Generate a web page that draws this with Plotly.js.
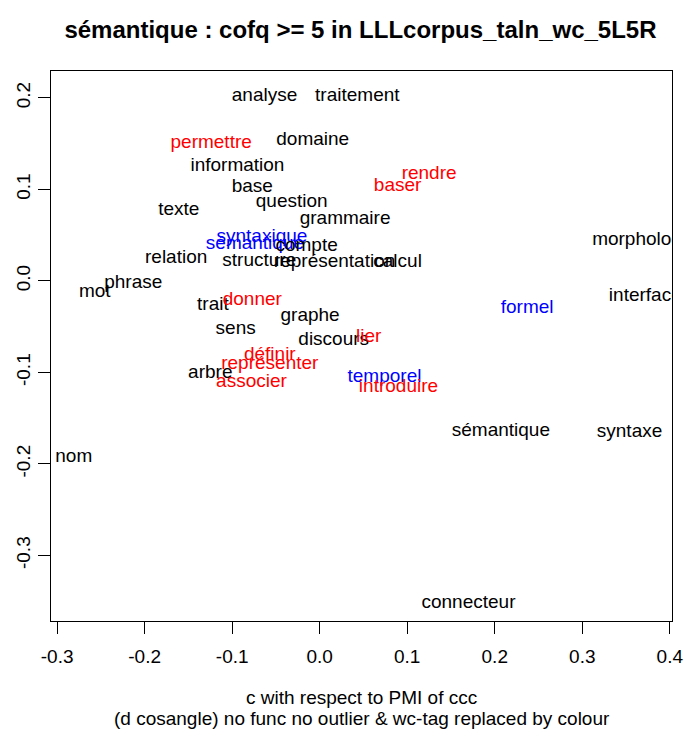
<!DOCTYPE html>
<html>
<head>
<meta charset="utf-8">
<script src="https://cdn.plot.ly/plotly-3.0.1.min.js"></script>
<style>html,body{margin:0;padding:0;background:#fff;}#chart{width:684px;height:736px;}</style>
</head>
<body>
<div id="chart"></div>
<script>
// words, coordinates and tag (colour class)
const words = ["analyse","traitement","permettre","domaine","information","rendre","base","baser","question","texte","grammaire","syntaxique","sémantique","compte","morphologie","relation","structure","représentation","calcul","phrase","mot","interface","trait","donner","formel","graphe","sens","discours","lier","définir","représenter","arbre","associer","temporel","introduire","sémantique","syntaxe","nom","connecteur"];
const xs = [-0.063,0.043,-0.124,-0.008,-0.094,0.125,-0.077,0.089,-0.032,-0.161,0.029,-0.066,-0.074,-0.015,0.371,-0.164,-0.069,0.017,0.089,-0.213,-0.257,0.372,-0.122,-0.077,0.237,-0.011,-0.096,0.016,0.056,-0.057,-0.057,-0.125,-0.078,0.074,0.090,0.207,0.354,-0.281,0.170];
const ys = [0.202,0.202,0.151,0.154,0.125,0.117,0.103,0.104,0.086,0.077,0.067,0.048,0.040,0.038,0.045,0.025,0.022,0.020,0.021,-0.003,-0.012,-0.017,-0.027,-0.021,-0.030,-0.038,-0.053,-0.065,-0.062,-0.081,-0.091,-0.101,-0.111,-0.105,-0.116,-0.164,-0.165,-0.193,-0.352];
const tags = ["N","N","V","N","N","V","N","V","N","N","N","A","A","N","N","N","N","N","N","N","N","N","N","V","A","N","N","N","V","V","V","N","V","A","V","N","N","N","N"];
const tagColours = {N:"#000000", V:"#ff0000", A:"#0000ff"};
const xTicks = [-0.3,-0.2,-0.1,0.0,0.1,0.2,0.3,0.4];
const yTicks = [-0.3,-0.2,-0.1,0.0,0.1,0.2];
const xTitleLines = ["c with respect to PMI of ccc", "(d cosangle) no func no outlier & wc-tag replaced by colour"];

const FONT = "Liberation Sans, Arial, sans-serif";
const trace = {
  x: xs, y: ys, text: words, mode: "text", type: "scatter",
  textposition: "middle center",
  textfont: {family: FONT, size: 19, color: tags.map(t => tagColours[t])},
  cliponaxis: true, hoverinfo: "none", showlegend: false
};
const layout = {
  width: 684, height: 736,
  margin: {l: 51, r: 12, t: 71, b: 115},
  paper_bgcolor: "#fff", plot_bgcolor: "#fff",
  font: {family: FONT, color: "#000"},
  title: {text: "<b>sémantique : cofq >= 5 in LLLcorpus_taln_wc_5L5R</b>", font: {family: FONT, size: 24, color: "#000"}, x: 0.527, xanchor: "center", y: 0.96, yanchor: "middle"},
  xaxis: {
    range: [-0.307, 0.4025], tickvals: xTicks, ticktext: xTicks.map(v => v.toFixed(1)),
    showgrid: false, zeroline: false, showline: true, mirror: true, linecolor: "#000", linewidth: 1,
    ticks: "outside", ticklen: 12, tickcolor: "#000", tickfont: {size: 19, family: FONT}, ticklabelstandoff: 6
  },
  yaxis: {
    range: [-0.3716, 0.2295], tickvals: yTicks, ticktext: yTicks.map(v => v.toFixed(1)),
    showgrid: false, zeroline: false, showline: true, mirror: true, linecolor: "#000", linewidth: 1,
    ticks: "outside", ticklen: 12, tickcolor: "#000", tickfont: {size: 19, family: FONT}, tickangle: -90
  },
  annotations: xTitleLines.map((t, i) => ({
    text: t, xref: "paper", yref: "paper", x: 0.5, y: 0, xanchor: "center", yanchor: "middle",
    yshift: -76 - 21 * i, showarrow: false, font: {size: 19, family: FONT, color: "#000"}
  }))
};
Plotly.newPlot("chart", [trace], layout, {staticPlot: true, displayModeBar: false});
</script>
</body>
</html>
